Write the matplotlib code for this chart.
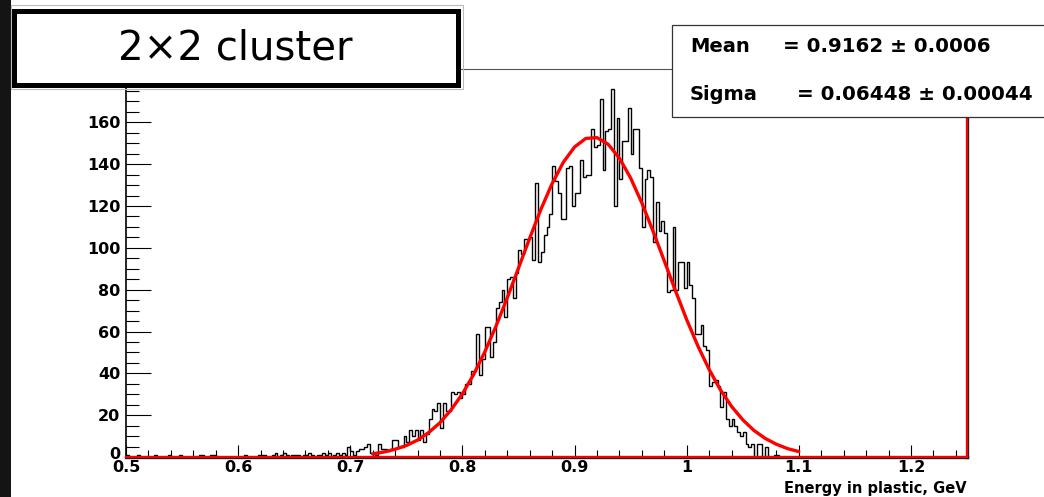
import numpy as np
import matplotlib
matplotlib.use("Agg")
import matplotlib.pyplot as plt
import matplotlib.transforms as mtransforms
from matplotlib.patches import Rectangle
from matplotlib.ticker import MultipleLocator

plt.rcParams['font.family'] = ['DejaVu Sans']

# histogram: 300 bins of 0.0025 GeV from 0.5 to 1.25 (only first bins non-empty)
bin_lo, bin_hi, n_bins = 0.5, 1.25, 300
hist_counts = [
    1, 0, 0, 0, 1, 0, 0, 0, 0, 0,          # 0.500
    1, 0, 0, 0, 0, 1, 0, 0, 0, 1,          # 0.525
    0, 0, 0, 0, 0, 0, 1, 1, 0, 0,          # 0.550
    1, 1, 0, 0, 0, 0, 0, 0, 0, 0,          # 0.575
    0, 0, 1, 0, 0, 0, 0, 1, 1, 1,          # 0.600
    0, 0, 1, 2, 0, 1, 2, 1, 0, 1,          # 0.625
    1, 1, 0, 1, 1, 2, 1, 0, 1, 1,          # 0.650
    2, 1, 2, 0, 1, 2, 1, 2, 1, 5,          # 0.675
    3, 1, 3, 4, 4, 5, 6, 2, 0, 1,          # 0.700
    6, 4, 4, 3, 4, 8, 8, 5, 5, 10,         # 0.725
    7, 13, 10, 13, 8, 13, 7, 11, 18, 23,   # 0.750
    22, 26, 14, 26, 22, 22, 31, 30, 31, 28,  # 0.775
    30, 35, 35, 41, 41, 59, 39, 47, 62, 62,  # 0.800
    48, 55, 71, 74, 80, 67, 85, 86, 76, 88,  # 0.825
    99, 97, 104, 104, 105, 94, 131, 93, 98, 106,     # 0.850
    110, 116, 139, 132, 126, 114, 114, 138, 139, 120,  # 0.875
    126, 126, 142, 134, 135, 135, 157, 148, 149, 171,  # 0.900
    137, 156, 157, 176, 120, 162, 133, 151, 151, 167,  # 0.925
    145, 157, 157, 138, 110, 133, 137, 134, 103, 122,  # 0.950
    108, 113, 107, 79, 80, 110, 80, 93, 93, 81,        # 0.975
    93, 82, 76, 59, 59, 63, 53, 51, 34, 36,            # 1.000
    37, 34, 24, 31, 18, 15, 18, 15, 12, 10,            # 1.025
    12, 6, 5, 6, 0, 6, 6, 0, 5, 0,                     # 1.050
    0, 1, 1, 0, 0, 0, 0, 0, 0, 0,                      # 1.075
]

# gaussian fit curve, read every 0.01 GeV from 0.72 to 1.10
fit_x = np.arange(0.72, 1.1001, 0.01)
fit_y = [1.5, 2.4, 3.7, 5.5, 8.1, 11.7, 16.4, 22.6, 30.2, 39.4,
         50.3, 62.6, 76.1, 90.3, 104.6, 118.4, 130.7, 140.9, 148.2, 152.3,
         152.7, 149.5, 142.9, 133.4, 121.5, 108.0, 93.8, 79.5, 65.7, 53.1,
         41.9, 32.2, 24.2, 17.8, 12.7, 8.9, 6.1, 4.0, 2.6]

x_ticks = [0.5, 0.6, 0.7, 0.8, 0.9, 1.0, 1.1, 1.2]
x_tick_labels = ["0.5", "0.6", "0.7", "0.8", "0.9", "1", "1.1", "1.2"]
y_ticks = [0, 20, 40, 60, 80, 100, 120, 140, 160]

title = "2×2 cluster"
x_label = "Energy in plastic, GeV"
stat_names = ["Mean", "Sigma"]
stat_values = ["= 0.9162 ± 0.0006", "= 0.06448 ± 0.00044"]

W, H = 1044, 497
fig = plt.figure(figsize=(W / 100, H / 100), dpi=100)
fig.patch.set_facecolor("white")

def fx(px):
    return px / W

def fy(py):
    return 1 - py / H

ax = fig.add_axes([fx(126), fy(457), (967 - 126) / W, (457 - 69) / H])

counts = np.zeros(n_bins)
counts[:len(hist_counts)] = hist_counts
edges = np.linspace(bin_lo, bin_hi, n_bins + 1)
ax.stairs(counts, edges, color="black", lw=1.0)
ax.plot(fit_x, fit_y, color="#ff0000", lw=2.4, solid_capstyle="round")

ax.set_xlim(bin_lo, bin_hi)
ax.set_ylim(0, 185.5)

ax.set_xticks(x_ticks)
ax.set_xticklabels(x_tick_labels)
ax.set_yticks(y_ticks)
ax.xaxis.set_minor_locator(MultipleLocator(0.02))
ax.yaxis.set_minor_locator(MultipleLocator(5))
ax.tick_params(axis="y", which="major", direction="in", length=18, width=0.8, pad=4)
ax.tick_params(axis="y", which="minor", direction="in", length=9.4, width=0.8)
ax.tick_params(axis="x", which="major", direction="in", length=8.6, width=0.8, pad=2)
ax.tick_params(axis="x", which="minor", direction="in", length=5, width=0.8)
for lab in ax.get_xticklabels() + ax.get_yticklabels():
    lab.set_fontweight("bold")
    lab.set_fontsize(11.5)

# ROOT puts the "0" of the y axis a bit above the baseline
zero_lab = ax.get_yticklabels()[0]
zero_lab.set_transform(zero_lab.get_transform() +
                       mtransforms.ScaledTranslation(0, 4 / 100, fig.dpi_scale_trans))

ax.spines["left"].set_linewidth(1.2)
ax.spines["top"].set_linewidth(0.8)
ax.spines["top"].set_color("#555555")
for s in ["right", "bottom"]:
    ax.spines[s].set_linewidth(2.4)
    ax.spines[s].set_color("#222222")
ax.axhline(0, color="#ff0000", lw=1.4, clip_on=False, zorder=5)
ax.axvline(bin_hi, color="#ff0000", lw=1.4, clip_on=False, zorder=5)

fig.text(fx(967), fy(488), x_label, ha="right", va="center",
         fontsize=10.5, fontweight="bold")

# dark strip on the left edge
fig.add_artist(Rectangle((0, 0), fx(11), 1, transform=fig.transFigure,
                         facecolor="#141414", edgecolor="none", zorder=1))

# title box
fig.add_artist(Rectangle((fx(11), fy(89)), (463 - 11) / W, (89 - 5) / H,
                         transform=fig.transFigure, facecolor="none",
                         edgecolor="#bbbbbb", lw=0.8, zorder=4))
fig.add_artist(Rectangle((fx(13.5), fy(84.5)), (457.5 - 13.5) / W, (84.5 - 10.5) / H,
                         transform=fig.transFigure, facecolor="white",
                         edgecolor="black", lw=3.6, zorder=5))
fig.text(fx(235), fy(49), title, ha="center", va="center", fontsize=29, zorder=6)

# stats box
fig.add_artist(Rectangle((fx(672), fy(117)), (1060 - 672) / W, (117 - 25) / H,
                         transform=fig.transFigure, facecolor="white",
                         edgecolor="#333333", lw=0.9, zorder=5))
for i, (name, val) in enumerate(zip(stat_names, stat_values)):
    yy = fy(47 + 47 * i)
    fig.text(fx(690), yy, name, ha="left", va="center", fontsize=14,
             fontweight="bold", zorder=6)
    fig.text(fx(783 + 14 * i), yy, val, ha="left", va="center", fontsize=14.3,
             fontweight="bold", zorder=6)

fig.savefig("out.png", dpi=100)
